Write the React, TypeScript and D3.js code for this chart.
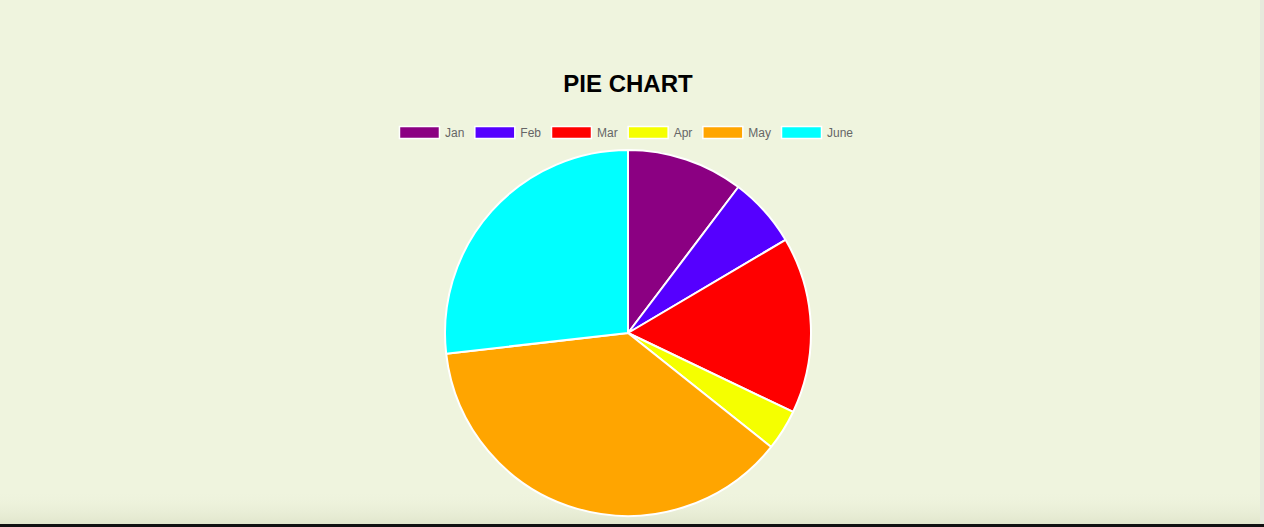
import { useEffect, useRef } from "react";
import * as d3 from "d3";

const months = ["Jan", "Feb", "Mar", "Apr", "May", "June"];
const sales = [103, 62, 156, 36, 375, 268];
const colors = [
  "#8b0082", // purple
  "#5500ff", // violet
  "#ff0000", // red
  "#f5ff00", // yellow
  "#ffa500", // orange
  "#00ffff", // cyan
];

const W = 1264;
const H = 527;

export default function App() {
  const ref = useRef<SVGSVGElement | null>(null);

  useEffect(() => {
    const svg = d3.select(ref.current);
    svg.selectAll("*").remove();

    const defs = svg.append("defs");
    const grad = defs.append("linearGradient")
      .attr("id", "shade")
      .attr("x1", 0).attr("x2", 0).attr("y1", 0).attr("y2", 1);
    grad.append("stop").attr("offset", "0%").attr("stop-color", "#eff4de").attr("stop-opacity", 0);
    grad.append("stop").attr("offset", "100%").attr("stop-color", "#e0e5cb").attr("stop-opacity", 1);

    svg.append("rect").attr("width", W).attr("height", H).attr("fill", "#eff4de");
    svg.append("rect").attr("y", 490).attr("width", W).attr("height", 35).attr("fill", "url(#shade)");
    svg.append("rect").attr("y", 524).attr("width", W).attr("height", 3).attr("fill", "#111");
    svg.append("rect").attr("x", 1260).attr("width", 4).attr("height", 524).attr("fill", "#e6e9dc");

    const cx = 628;
    const cy = 333;
    const r = 183;

    // title
    svg.append("text")
      .attr("x", cx)
      .attr("y", 92)
      .attr("text-anchor", "middle")
      .attr("font-family", "'Liberation Sans', Arial, sans-serif")
      .attr("font-weight", "bold")
      .attr("font-size", 24)
      .attr("fill", "#000")
      .text("PIE CHART");

    // legend
    const fontSize = 12;
    const boxW = 40;
    const font = "'Liberation Sans', Arial, sans-serif";
    const ctx = document.createElement("canvas").getContext("2d")!;
    ctx.font = `${fontSize}px ${font}`;
    const widths = months.map((m) => boxW + fontSize / 2 + ctx.measureText(m).width);
    const total = d3.sum(widths) + 10 * (months.length - 1);
    let x = cx - total / 2 - 2;
    const legend = svg.append("g");
    months.forEach((m, i) => {
      const g = legend.append("g").attr("transform", `translate(${x},126)`);
      g.append("rect")
        .attr("x", 0.5).attr("y", 0.5)
        .attr("width", boxW).attr("height", 12)
        .attr("fill", colors[i])
        .attr("stroke", "#fff")
        .attr("stroke-width", 1.5);
      g.append("text")
        .attr("x", boxW + fontSize / 2)
        .attr("y", 8)
        .attr("dominant-baseline", "middle")
        .attr("font-family", font)
        .attr("font-size", fontSize)
        .attr("fill", "#666")
        .text(m);
      x += widths[i] + 10;
    });

    // pie
    const pie = d3.pie<number>().sort(null).value((d) => d);
    const arc = d3.arc<d3.PieArcDatum<number>>().innerRadius(0).outerRadius(r);
    svg.append("g")
      .attr("transform", `translate(${cx},${cy})`)
      .selectAll("path")
      .data(pie(sales))
      .join("path")
      .attr("d", arc)
      .attr("fill", (d, i) => colors[i])
      .attr("stroke", "#fff")
      .attr("stroke-width", 2)
      .attr("stroke-linejoin", "bevel");
  }, []);

  return (
    <div style={{ position: "absolute", left: 0, top: 0 }}>
      <svg ref={ref} width={W} height={H} style={{ display: "block" }} />
    </div>
  );
}
